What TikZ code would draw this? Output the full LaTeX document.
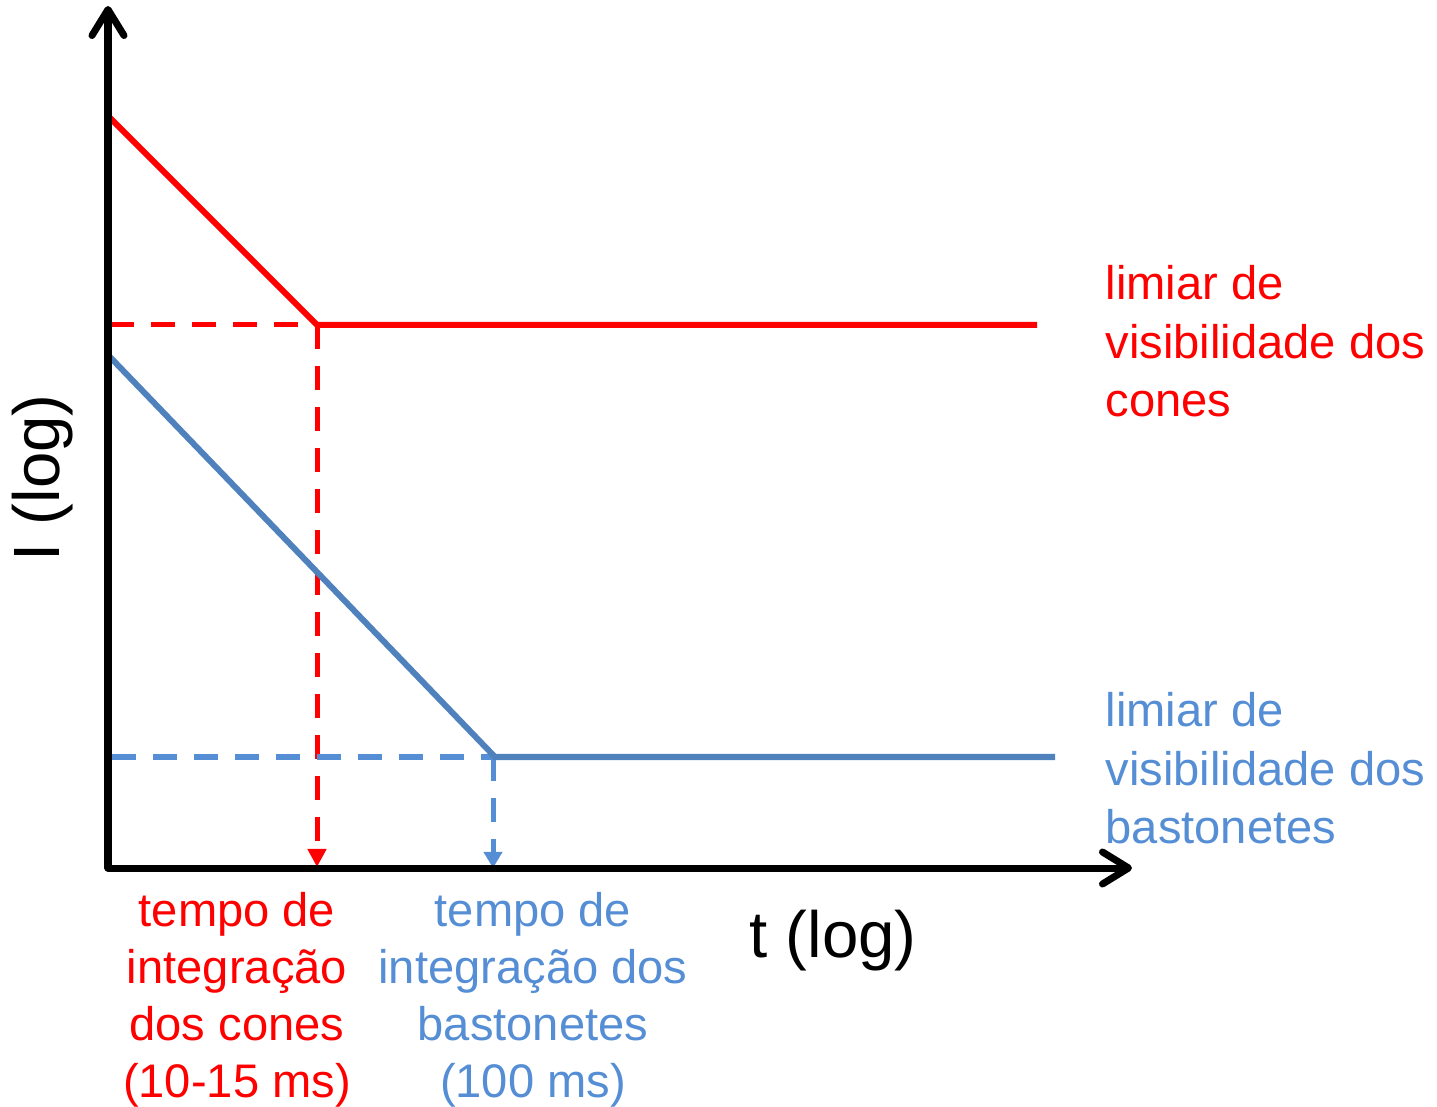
\documentclass[tikz,border=0pt]{standalone}
\usepackage{fontspec}
\setmainfont{Liberation Sans}
\usetikzlibrary{arrows.meta}
\definecolor{conered}{RGB}{255,0,0}
\definecolor{rodblue}{RGB}{79,129,189}
\definecolor{rodtext}{RGB}{85,142,213}

\begin{document}
\begin{tikzpicture}[x=0.01cm,y=-0.01cm,
    axisline/.style={line width=0.07cm, line cap=round,
      -{Straight Barb[length=0.26cm,width=0.32cm,round]}},
    curve/.style={line width=0.06cm},
    guide/.style={line width=0.05cm, dash pattern=on 0.24cm off 0.17cm},
    lbl/.style={inner sep=0pt, font=\fontsize{13.4pt}{16.6pt}\selectfont},
    sublbl/.style={inner sep=0pt, font=\fontsize{13.4pt}{16.2pt}\selectfont},
    big/.style={inner sep=0pt, font=\fontsize{18.6pt}{22pt}\selectfont}]
    \useasboundingbox (0,0) rectangle (1437,1107);

    % Pontos
    \coordinate (O) at (108,868);
    \coordinate (ytop) at (108,6);
    \coordinate (xend) at (1132,868);
    \coordinate (r0) at (110,118);
    \coordinate (rk) at (317,325);
    \coordinate (r1) at (1037,325);
    \coordinate (ry) at (110,325);
    \coordinate (rx) at (317,867);
    \coordinate (b0) at (110,357);
    \coordinate (bk) at (495,757);
    \coordinate (b1) at (1055,757);
    \coordinate (by) at (112,757);
    \coordinate (bx) at (493,868);
    \coordinate (bkd) at (493,757);

    % Linhas tracejadas
    \draw[guide, conered] (ry) -- (rk);
    \draw[guide, conered, -{Triangle[length=0.18cm,width=0.18cm]}] (rk) -- (rx);
    \draw[guide, rodtext] (by) -- (bkd);
    \draw[guide, rodtext, -{Triangle[length=0.16cm,width=0.18cm]}] (bkd) -- (bx);

    % Limiares
    \draw[curve, conered] (r0) -- (rk) -- (r1);
    \draw[curve, rodblue] (b0) -- (bk) -- (b1);

    % Eixos
    \draw[axisline] (O) -- (ytop);
    \draw[axisline] (O) -- (xend);

    % Textos
    \node[lbl, conered, align=left, anchor=north west] (conelbl) at (1105,265)
        {limiar de\\visibilidade dos\\cones};
    \node[lbl, rodtext, align=left, anchor=north west] (rodlbl) at (1105,692)
        {limiar de\\visibilidade dos\\bastonetes};
    \node[sublbl, conered, align=center, anchor=north] (conetime) at (237,892)
        {tempo de\\integração\\dos cones\\(10-15 ms)};
    \node[sublbl, rodtext, align=center, anchor=north] (rodtime) at (533,892)
        {tempo de\\integração dos\\bastonetes\\(100 ms)};
    \node[big, anchor=base] (tlog) at (833,957) {t (log)};
    \node[big, anchor=base, rotate=90] (ilog) at (59,478) {I (log)};
\end{tikzpicture}
\end{document}
